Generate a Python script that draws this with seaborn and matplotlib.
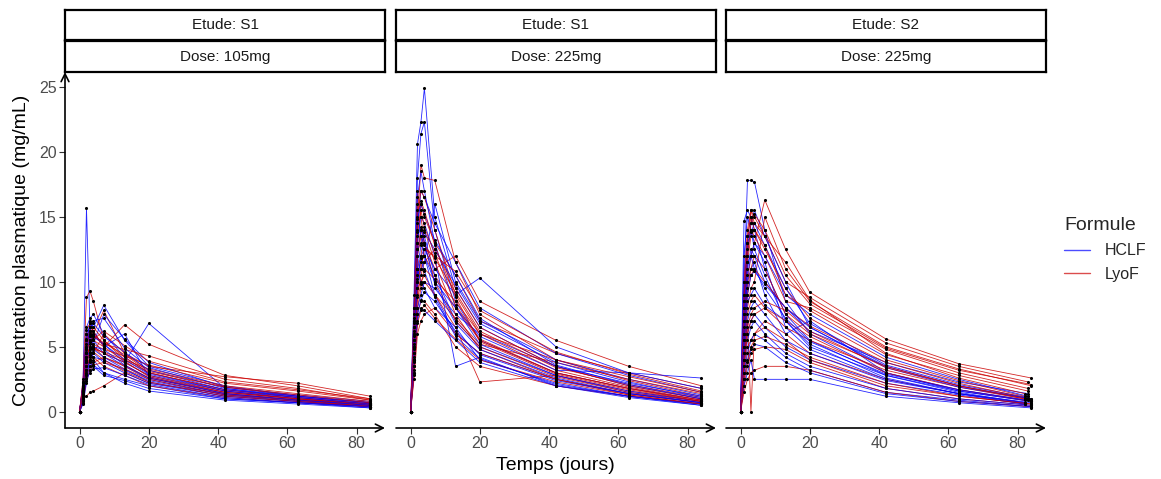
import numpy as np
import pandas as pd
import matplotlib
matplotlib.use("Agg")
import matplotlib.pyplot as plt
from matplotlib.lines import Line2D
import seaborn as sns

sns.set_theme(style="white")
plt.rcParams["font.family"] = ["Liberation Sans", "DejaVu Sans"]

# ---------------- data ----------------
TIMES = [0, 1, 2, 3, 4, 7, 13, 20, 42, 63, 84]
PANELS = [("Etude: S1", "Dose: 105mg"), ("Etude: S1", "Dose: 225mg"), ("Etude: S2", "Dose: 225mg")]
FORMULES = ["HCLF", "LyoF"]
S2_LAST_DAY = [84, 82, 84, 83, 82, 84, 83, 84, 82, 84, 83, 84, 82, 84, 83, 84, 82, 84]

S1_105_HCLF = [
    [0, 2.0, 15.7, 6.5, 5.0, 4.5, 3.8, 2.8, 1.5, 1.0, 0.6],
    [0, 1.5, 4.5, 7.0, 6.5, 8.2, 5.5, 3.5, 2.0, 1.2, 0.7],
    [0, 1.2, 3.5, 5.0, 6.0, 5.2, 3.8, 6.8, 1.8, 1.1, 0.6],
    [0, 0.8, 2.5, 3.5, 4.0, 3.0, 2.5, 2.0, 1.0, 0.7, 0.4],
    [0, 1.8, 5.0, 6.0, 5.5, 4.5, 3.5, 2.5, 1.3, 0.9, 0.5],
    [0, 2.3, 6.5, 7.2, 7.5, 6.0, 4.2, 3.0, 1.6, 1.0, 0.5],
    [0, 1.0, 3.0, 4.0, 4.5, 3.8, 3.0, 2.2, 1.2, 0.8, 0.4],
    [0, 1.4, 4.0, 4.8, 5.2, 7.5, 5.6, 3.8, 1.9, 1.3, 0.8],
    [0, 0.6, 2.2, 3.2, 3.6, 3.0, 2.2, 1.6, 0.9, 0.6, 0.3],
    [0, 1.6, 5.5, 6.8, 6.2, 5.0, 6.0, 2.7, 1.4, 0.9, 0.5],
    [0, 1.1, 3.8, 4.5, 4.2, 4.0, 3.2, 2.4, 1.3, 0.8, 0.4],
    [0, 2.0, 4.8, 5.5, 5.8, 5.2, 4.0, 2.9, 1.6, 1.1, 0.6],
    [0, 1.3, 3.2, 4.2, 4.8, 4.2, 3.3, 2.3, 1.2, 0.8, 0.4],
    [0, 0.7, 2.8, 3.8, 3.5, 2.8, 2.4, 1.8, 1.0, 0.7, 0.3],
    [0, 1.9, 6.0, 6.5, 6.8, 5.8, 4.6, 3.2, 1.7, 1.2, 0.7],
    [0, 1.5, 4.2, 5.8, 5.0, 4.8, 3.6, 2.6, 1.4, 0.9, 0.5],
    [0, 2.1, 5.2, 6.2, 7.0, 7.2, 4.9, 3.4, 1.8, 1.2, 0.7],
    [0, 0.9, 2.6, 3.0, 3.3, 3.4, 2.8, 2.1, 1.1, 0.7, 0.4],
]
S1_105_LYOF = [
    [0, 2.5, 8.8, 9.3, 8.5, 5.5, 4.0, 3.0, 1.7, 1.1, 0.6],
    [0, 1.0, 1.2, 1.5, 1.6, 2.0, 3.0, 2.2, 1.4, 0.9, 0.5],
    [0, 1.8, 5.5, 6.5, 6.0, 7.8, 4.5, 3.2, 1.9, 1.2, 0.7],
    [0, 1.3, 4.0, 5.2, 5.5, 5.0, 6.7, 5.2, 2.8, 2.0, 1.0],
    [0, 2.2, 6.0, 5.5, 5.0, 4.2, 3.5, 2.6, 1.5, 1.0, 0.5],
    [0, 0.9, 3.0, 4.0, 4.5, 6.0, 4.5, 3.5, 2.7, 2.2, 1.2],
    [0, 1.5, 4.5, 4.8, 5.0, 4.5, 3.8, 2.8, 1.6, 1.0, 0.6],
    [0, 2.0, 5.0, 6.2, 5.8, 5.2, 4.8, 4.3, 2.5, 1.8, 0.9],
    [0, 1.2, 3.5, 4.0, 4.2, 3.5, 2.8, 2.0, 1.1, 0.7, 0.4],
    [0, 1.6, 4.8, 5.8, 6.5, 5.5, 4.2, 3.0, 1.7, 1.1, 0.6],
    [0, 1.0, 2.8, 3.5, 3.8, 4.2, 3.6, 2.6, 1.4, 0.9, 0.4],
    [0, 1.7, 4.2, 5.0, 4.8, 4.6, 4.0, 3.3, 2.0, 1.4, 0.8],
    [0, 1.4, 3.8, 4.6, 5.2, 4.8, 4.3, 3.6, 2.2, 1.6, 0.9],
    [0, 2.3, 6.3, 6.8, 6.2, 5.0, 3.9, 2.7, 1.5, 1.0, 0.5],
    [0, 0.8, 2.4, 3.2, 3.6, 3.8, 3.3, 2.5, 1.3, 0.9, 0.4],
    [0, 1.9, 5.6, 6.0, 5.6, 6.2, 5.1, 3.9, 2.3, 1.7, 1.0],
    [0, 1.1, 3.2, 4.4, 4.6, 4.0, 3.1, 2.3, 1.2, 0.8, 0.4],
    [0, 2.0, 4.6, 5.4, 5.9, 5.3, 4.4, 3.1, 1.9, 1.3, 0.7],
]
S1_225_HCLF = [
    [0, 9.0, 20.6, 22.3, 24.9, 15.0, 9.5, 6.5, 3.5, 2.0, 1.0],
    [0, 8.0, 18.0, 21.4, 22.3, 14.0, 8.5, 5.5, 3.0, 1.8, 0.9],
    [0, 6.0, 14.0, 17.0, 16.5, 14.5, 11.5, 8.0, 4.5, 2.8, 1.5],
    [0, 5.0, 12.0, 14.0, 13.5, 10.5, 7.0, 5.0, 2.8, 1.5, 0.8],
    [0, 7.0, 15.5, 13.5, 12.0, 9.0, 6.0, 4.5, 2.5, 1.4, 0.7],
    [0, 4.0, 10.0, 12.0, 12.5, 11.0, 9.0, 10.3, 5.0, 3.0, 1.8],
    [0, 5.5, 11.0, 10.0, 9.5, 8.0, 6.5, 4.0, 2.2, 1.2, 0.6],
    [0, 3.5, 8.0, 9.0, 10.0, 9.5, 7.5, 6.0, 3.5, 2.2, 1.2],
    [0, 6.5, 13.0, 15.0, 14.5, 12.0, 3.5, 4.2, 2.0, 1.1, 0.5],
    [0, 4.5, 9.5, 11.0, 11.5, 16.0, 10.0, 7.0, 4.0, 2.5, 1.3],
    [0, 3.0, 7.0, 8.0, 7.8, 7.0, 5.5, 3.8, 2.0, 1.2, 0.6],
    [0, 5.0, 12.5, 13.0, 12.0, 10.0, 8.0, 5.8, 3.2, 3.0, 2.6],
    [0, 7.5, 16.5, 18.5, 17.0, 13.0, 8.0, 5.2, 2.8, 1.6, 0.8],
    [0, 4.0, 11.0, 12.8, 13.8, 12.5, 9.8, 6.8, 3.8, 2.3, 1.1],
    [0, 5.8, 13.5, 14.2, 13.0, 9.8, 6.8, 4.8, 2.6, 1.4, 0.7],
    [0, 3.2, 7.5, 8.6, 9.2, 8.5, 6.2, 4.4, 2.4, 1.4, 0.7],
    [0, 6.8, 14.8, 16.0, 15.2, 13.2, 10.5, 7.2, 3.6, 2.1, 1.0],
    [0, 4.8, 10.5, 11.8, 10.8, 8.8, 5.8, 4.1, 2.1, 1.2, 0.5],
]
S1_225_LYOF = [
    [0, 7.0, 14.5, 19.0, 18.0, 17.8, 11.5, 7.5, 4.0, 2.4, 1.2],
    [0, 5.0, 13.0, 16.0, 15.0, 13.0, 10.5, 7.0, 4.5, 3.0, 1.8],
    [0, 4.0, 10.0, 11.5, 12.0, 10.5, 8.0, 5.5, 3.0, 1.8, 0.9],
    [0, 6.0, 12.5, 14.0, 13.0, 11.0, 12.0, 8.5, 5.5, 3.5, 2.0],
    [0, 3.5, 8.0, 9.5, 10.0, 9.0, 6.5, 2.3, 2.8, 1.6, 0.8],
    [0, 8.0, 17.0, 15.0, 13.0, 10.0, 7.0, 5.0, 2.7, 1.5, 0.7],
    [0, 4.5, 9.0, 10.5, 11.5, 12.5, 9.5, 6.5, 3.5, 2.0, 1.0],
    [0, 2.5, 6.0, 7.0, 7.5, 8.0, 6.0, 4.5, 2.5, 1.4, 0.7],
    [0, 5.5, 11.0, 12.0, 14.0, 11.5, 7.5, 4.8, 2.5, 1.3, 0.6],
    [0, 3.0, 7.5, 8.5, 8.5, 7.5, 5.0, 3.5, 2.0, 1.2, 0.6],
    [0, 6.5, 15.0, 17.0, 16.5, 14.0, 9.0, 6.0, 3.2, 1.9, 0.9],
    [0, 4.0, 9.5, 10.0, 10.5, 9.0, 7.2, 5.2, 3.8, 2.5, 1.4],
    [0, 5.2, 12.0, 13.5, 12.8, 11.8, 9.2, 6.2, 3.4, 2.1, 1.1],
    [0, 3.8, 8.8, 9.8, 11.0, 10.2, 8.5, 6.0, 4.0, 2.7, 1.5],
    [0, 6.2, 13.8, 15.5, 14.2, 12.2, 8.2, 5.6, 3.0, 1.8, 0.8],
    [0, 2.8, 6.8, 7.8, 8.2, 7.2, 5.6, 4.0, 2.3, 1.3, 0.6],
    [0, 4.2, 10.2, 11.0, 12.5, 12.0, 10.8, 7.8, 4.6, 2.9, 1.6],
    [0, 7.2, 16.0, 16.2, 15.5, 12.8, 8.8, 5.4, 2.9, 1.7, 0.8],
]
S2_225_HCLF = [
    [0, 10.0, 17.8, 17.8, 17.7, 14.0, 8.5, 6.0, 3.0, 1.6, 0.8],
    [0, 14.7, 15.5, 15.0, 14.0, 11.0, 7.5, 5.5, 2.8, 1.5, 0.7],
    [0, 8.0, 12.0, 14.5, 15.5, 13.5, 10.0, 6.5, 3.5, 2.0, 1.0],
    [0, 6.0, 10.0, 11.0, 11.5, 9.0, 6.0, 7.0, 3.0, 1.7, 0.9],
    [0, 4.0, 6.0, 7.0, 7.5, 6.5, 5.0, 4.0, 2.2, 1.3, 0.6],
    [0, 3.0, 4.5, 5.5, 6.0, 5.5, 4.2, 3.2, 1.5, 0.9, 0.4],
    [0, 7.0, 11.0, 12.5, 12.0, 10.0, 8.0, 6.2, 3.8, 2.3, 1.4],
    [0, 2.0, 3.0, 4.0, 2.5, 2.5, 2.5, 2.5, 1.2, 0.7, 0.3],
    [0, 9.0, 13.5, 14.0, 13.0, 11.5, 6.5, 4.8, 2.5, 1.4, 0.7],
    [0, 5.0, 8.5, 9.0, 9.5, 8.2, 7.0, 5.0, 2.8, 1.6, 0.8],
    [0, 6.5, 10.5, 12.0, 13.0, 12.0, 9.0, 7.5, 4.2, 2.5, 1.2],
    [0, 3.5, 5.5, 6.5, 7.0, 6.0, 4.5, 3.5, 1.8, 1.0, 0.5],
    [0, 12.0, 15.0, 14.0, 12.5, 10.5, 7.0, 5.2, 2.6, 1.4, 0.6],
    [0, 4.5, 7.0, 8.0, 8.5, 7.5, 5.5, 4.5, 2.4, 1.4, 0.7],
    [0, 8.5, 13.0, 13.8, 14.5, 12.8, 9.5, 6.8, 3.6, 2.1, 1.1],
    [0, 2.5, 3.8, 4.8, 5.2, 5.0, 3.8, 3.0, 1.4, 0.8, 0.4],
    [0, 7.5, 11.5, 12.0, 11.0, 9.5, 7.2, 5.4, 2.9, 1.7, 0.9],
    [0, 5.5, 9.0, 10.5, 10.8, 9.8, 8.0, 6.5, 3.4, 1.9, 1.0],
]
S2_225_LYOF = [
    [0, 6.0, 10.0, 12.0, 13.0, 16.3, 12.5, 9.2, 5.6, 3.7, 2.6],
    [0, 8.0, 13.0, 15.5, 15.0, 13.5, 10.0, 8.8, 5.3, 3.5, 2.3],
    [0, 5.0, 8.0, 9.5, 10.0, 15.0, 11.0, 8.5, 5.0, 3.3, 2.0],
    [0, 4.0, 7.0, 0.0, 6.0, 7.0, 6.0, 4.5, 2.5, 1.4, 0.7],
    [0, 3.0, 5.0, 5.5, 6.0, 6.5, 5.5, 4.0, 2.0, 1.2, 0.6],
    [0, 9.0, 12.5, 14.0, 13.5, 12.0, 8.5, 8.0, 4.8, 3.0, 1.8],
    [0, 2.0, 3.5, 4.5, 4.8, 5.0, 4.8, 3.8, 1.8, 1.0, 0.5],
    [0, 7.0, 11.5, 13.5, 14.0, 12.5, 9.5, 7.2, 4.0, 2.4, 1.2],
    [0, 1.5, 2.5, 3.0, 3.2, 3.5, 3.5, 3.2, 1.5, 0.8, 0.4],
    [0, 6.0, 9.5, 11.0, 12.0, 11.0, 7.5, 6.0, 3.5, 2.0, 1.0],
    [0, 4.5, 7.5, 8.5, 9.0, 8.0, 6.5, 5.5, 3.2, 1.9, 0.9],
    [0, 10.0, 14.0, 15.5, 14.5, 13.5, 11.5, 8.6, 4.5, 2.6, 1.4],
    [0, 7.5, 12.0, 14.5, 15.2, 14.0, 10.5, 8.3, 4.9, 3.2, 2.1],
    [0, 3.5, 6.0, 7.0, 7.5, 8.0, 7.0, 5.8, 3.0, 1.7, 0.8],
    [0, 5.5, 9.0, 10.5, 11.0, 10.0, 8.0, 6.6, 3.8, 2.2, 1.1],
    [0, 2.5, 4.0, 5.0, 5.5, 5.8, 5.2, 4.2, 2.2, 1.2, 0.6],
    [0, 8.5, 13.5, 15.0, 14.0, 12.8, 9.0, 7.8, 4.4, 2.8, 1.6],
    [0, 4.0, 6.5, 7.5, 8.0, 8.5, 7.8, 6.2, 3.4, 2.0, 1.0],
]
DATA = [
    {"HCLF": S1_105_HCLF, "LyoF": S1_105_LYOF},
    {"HCLF": S1_225_HCLF, "LyoF": S1_225_LYOF},
    {"HCLF": S2_225_HCLF, "LyoF": S2_225_LYOF},
]
PALETTE = {"HCLF": "#0000FF", "LyoF": "#CC0000"}

rows = []
for p, d in enumerate(DATA):
    n = len(d["HCLF"])
    for i in range(n):
        for f in FORMULES:
            prof = d[f][i]
            for j, (t, c) in enumerate(zip(TIMES, prof)):
                if p == 2 and j == len(TIMES) - 1:
                    t = S2_LAST_DAY[i] if f == "HCLF" else S2_LAST_DAY[(i + 5) % n]
                rows.append({"panel": p, "ID": f"{p}-{f}-{i}", "Formule": f,
                             "Temps": t, "Conc": c, "order": i * 2 + (f == "LyoF")})
df = pd.DataFrame(rows)

# ---------------- figure ----------------
W, H = 1161, 479
fig = plt.figure(figsize=(W / 100, H / 100), dpi=100)
lefts = [65, 396, 726]
pw = 320
top_px, bot_px = 72, 428

def fx(px):
    return px / W

def fy(py):
    return 1 - py / H

axes = []
for p in range(3):
    ax = fig.add_axes([fx(lefts[p]), fy(bot_px), fx(pw), (bot_px - top_px) / H])
    axes.append(ax)
    sub = df[df.panel == p]
    for k in sorted(sub.order.unique()):
        s = sub[sub.order == k]
        sns.lineplot(data=s, x="Temps", y="Conc", hue="Formule", palette=PALETTE,
                     units="ID", estimator=None, sort=False, lw=0.6, alpha=0.85,
                     legend=False, ax=ax)
    sns.scatterplot(data=sub, x="Temps", y="Conc", color="black", s=5,
                    linewidth=0, legend=False, ax=ax, zorder=5)
    ax.set_xlim(-4.2, 88.2)
    ax.set_ylim(-1.245, 26.145)
    for sp in ax.spines.values():
        sp.set_visible(False)
    ax.set_xlabel("")
    ax.set_ylabel("")
    ax.set_xticks([0, 20, 40, 60, 80])
    ax.tick_params(axis="x", length=4, width=0.8, color="#333333",
                   labelcolor="#4D4D4D", labelsize=11.5, pad=2, bottom=True)
    ax.annotate("", xy=(1.0, 0), xytext=(0, 0), xycoords="axes fraction",
                arrowprops=dict(arrowstyle="->", color="black", lw=1.2,
                                mutation_scale=14, shrinkA=0, shrinkB=0),
                annotation_clip=False)
    if p == 0:
        ax.set_yticks([0, 5, 10, 15, 20, 25])
        ax.tick_params(axis="y", length=4, width=0.8, color="#333333",
                       labelcolor="#4D4D4D", labelsize=11.5, pad=2, left=True)
        ax.annotate("", xy=(0, 1.0), xytext=(0, 0), xycoords="axes fraction",
                    arrowprops=dict(arrowstyle="->", color="black", lw=1.2,
                                    mutation_scale=14, shrinkA=0, shrinkB=0),
                    annotation_clip=False)
    else:
        ax.set_yticks([])

    # strips
    for (t0, t1), label in zip([(10, 40), (41, 72)], PANELS[p]):
        sax = fig.add_axes([fx(lefts[p]), fy(t1), fx(pw), (t1 - t0) / H])
        sax.set_xticks([])
        sax.set_yticks([])
        sax.set_facecolor("white")
        for sp in sax.spines.values():
            sp.set_visible(True)
            sp.set_color("black")
            sp.set_linewidth(1.6)
        sax.text(0.5, 0.5, label, ha="center", va="center", fontsize=11,
                 color="#1A1A1A", transform=sax.transAxes)

fig.text(fx(22), fy(250), "Concentration plasmatique (mg/mL)", rotation=90,
         ha="center", va="center", fontsize=14, color="black")
fig.text(fx(555), fy(466), "Temps (jours)", ha="center", va="center",
         fontsize=14, color="black")

handles = [Line2D([0], [0], color=PALETTE[f], lw=1.0, alpha=0.7) for f in FORMULES]
fig.legend(handles, FORMULES, title="Formule", loc="upper left",
           bbox_to_anchor=(fx(1050), fy(203)), frameon=False, fontsize=11.5,
           title_fontsize=14, handlelength=1.6, handletextpad=0.9,
           labelspacing=0.55, alignment="left")

fig.savefig("out.png", dpi=100)
